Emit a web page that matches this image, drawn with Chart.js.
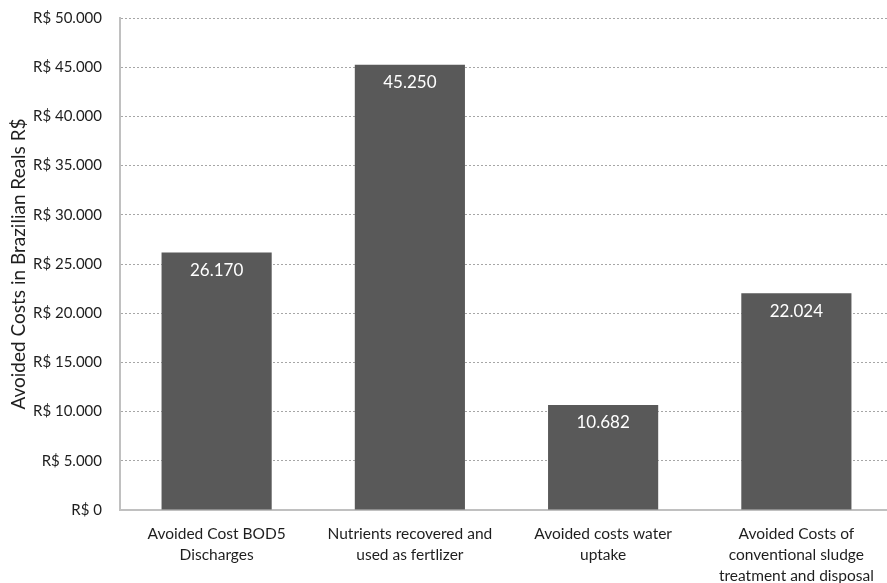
<!DOCTYPE html>
<html><head><meta charset="utf-8">
<script src="https://cdn.jsdelivr.net/npm/chart.js@4/dist/chart.umd.min.js"></script>
<style>html,body{margin:0;padding:0;background:#fff;overflow:hidden}#wrap{width:893px;height:583px}</style>
</head><body><div id="wrap"><canvas id="c"></canvas></div>
<script>
const categories = [
  ["Avoided Cost BOD5", "Discharges"],
  ["Nutrients recovered and", "used as fertlizer"],
  ["Avoided costs water", "uptake"],
  ["Avoided Costs of", "conventional sludge", "treatment and disposal"]
];
const values = [26170, 45250, 10682, 22024];
const yTicks = [0, 5000, 10000, 15000, 20000, 25000, 30000, 35000, 40000, 45000, 50000];
const yTitle = "Avoided Costs in Brazilian Reals R$";

const FONT = "Lato, 'Open Sans', sans-serif";
const TXT = '#1e1e1e';
const fmt = v => String(v).replace(/\B(?=(\d{3})+(?!\d))/g, ".");

const labelPlugin = {
  id: 'inbar',
  afterDatasetsDraw(chart) {
    const ctx = chart.ctx;
    const meta = chart.getDatasetMeta(0);
    ctx.save();
    ctx.fillStyle = '#ffffff';
    ctx.font = "17px " + FONT;
    ctx.textAlign = 'center';
    ctx.textBaseline = 'middle';
    meta.data.forEach((bar, i) => {
      ctx.fillText(fmt(values[i]), bar.x, bar.y + 18);
    });
    ctx.restore();
  }
};

new Chart(document.getElementById('c'), {
  type: 'bar',
  data: { labels: categories, datasets: [{ data: values, backgroundColor: '#595959', borderWidth: 0, categoryPercentage: 1, barPercentage: 0.57 }] },
  options: {
    responsive: true, maintainAspectRatio: false, animation: false,
    layout: { padding: { top: 18, right: 0, left: 7, bottom: 0 } },
    plugins: { legend: { display: false }, tooltip: { enabled: false } },
    scales: {
      x: {
        grid: { display: false, drawTicks: false },
        border: { color: '#c0c0c0', width: 2 },
        ticks: { color: TXT, font: { family: FONT, size: 15.5, lineHeight: 1.35 }, padding: 14, maxRotation: 0, autoSkip: false },
        afterFit: s => { s.height = 73; s.paddingLeft = 0; s.paddingRight = 0; s.paddingTop = 0; s.paddingBottom = 0; }
      },
      y: {
        min: 0, max: 50000,
        afterBuildTicks: s => { s.ticks = yTicks.map(v => ({ value: v })); },
        grid: { color: '#a6a6a6', drawTicks: false, lineWidth: 1 },
        border: { color: '#c0c0c0', width: 2, dash: [2, 2] },
        ticks: { color: TXT, font: { family: FONT, size: 15 }, padding: 18, callback: v => 'R$ ' + fmt(v) },
        title: { display: true, text: yTitle, color: TXT, font: { family: FONT, size: 19 }, padding: { top: 0, bottom: 0 } },
        afterFit: s => { s.width = 113; s.paddingTop = 0; s.paddingBottom = 0; }
      }
    }
  },
  plugins: [labelPlugin]
});
</script></body></html>
